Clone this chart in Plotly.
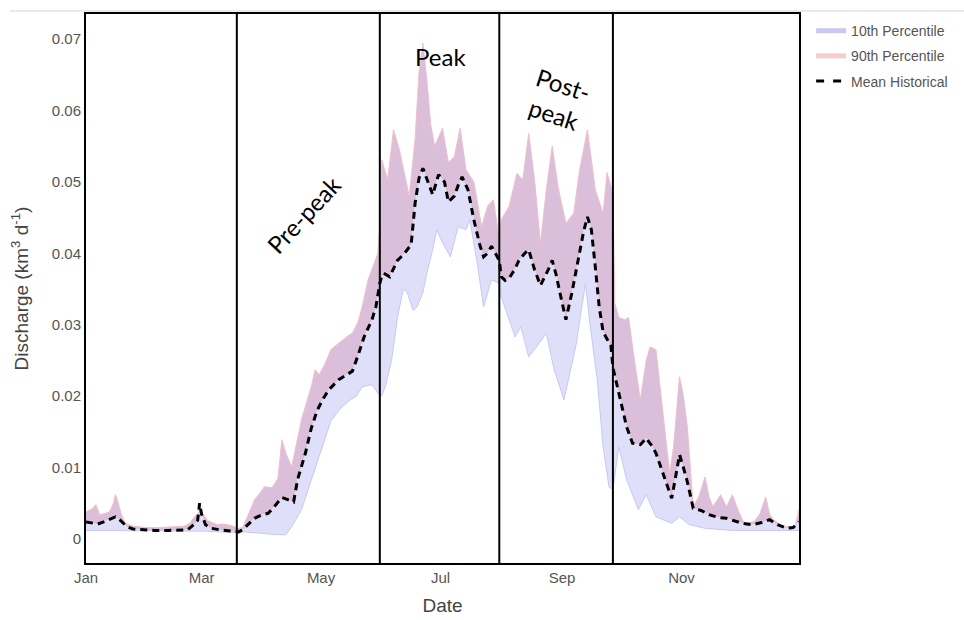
import pandas as pd
import plotly.graph_objects as go

# Day-of-year (0 = 1 Jan) and discharge in km^3/d for each series
mean_days = [0, 3, 6, 9, 12, 15, 18, 21, 24, 28, 35, 42, 48, 52, 55, 57, 58, 59, 61, 64, 68, 72, 76, 78,
             80, 83, 86, 90, 93, 96, 100, 103, 106, 108, 110, 112, 115, 118, 121, 124, 129, 133, 136, 139,
             142, 146, 148, 150, 151, 152, 155, 159, 162, 164, 166, 168, 170, 172, 174, 177, 180, 183, 185,
             188, 190, 192, 195, 198, 201, 203, 205, 207, 209, 211, 212, 214, 216, 219, 221, 224, 226, 229,
             232, 234, 236, 238, 240, 242, 245, 248, 251, 254, 256, 258, 260, 262, 264, 266, 268, 269, 272,
             276, 279, 283, 286, 289, 291, 295, 299, 301, 303, 305, 307, 310, 314, 318, 323, 327, 331, 335,
             340, 345, 349, 353, 358, 361, 364]
mean_vals = [0.0024, 0.0023, 0.0021, 0.0024, 0.0028, 0.0031, 0.0025, 0.0017, 0.0014, 0.0013, 0.0012, 0.0012,
             0.0012, 0.0013, 0.0020, 0.0026, 0.0050, 0.0035, 0.0020, 0.0015, 0.0013, 0.0012, 0.0011, 0.0010,
             0.0013, 0.0021, 0.0029, 0.0034, 0.0036, 0.0045, 0.0058, 0.0055, 0.0052, 0.0083, 0.0100, 0.0120,
             0.0155, 0.0180, 0.0196, 0.0209, 0.0223, 0.0230, 0.0235, 0.0258, 0.0283, 0.0307, 0.0325, 0.0358,
             0.0368, 0.0372, 0.0367, 0.0390, 0.0398, 0.0405, 0.0412, 0.0470, 0.0505, 0.0519, 0.0503, 0.0482,
             0.0510, 0.0500, 0.0472, 0.0480, 0.0495, 0.0507, 0.0489, 0.0447, 0.0412, 0.0395, 0.0400, 0.0410,
             0.0400, 0.0390, 0.0367, 0.0362, 0.0365, 0.0378, 0.0390, 0.0400, 0.0405, 0.0377, 0.0355, 0.0365,
             0.0377, 0.0390, 0.0370, 0.0344, 0.0307, 0.0344, 0.0386, 0.0430, 0.0451, 0.0433, 0.0381, 0.0325,
             0.0290, 0.0280, 0.0270, 0.0240, 0.0204, 0.0157, 0.0134, 0.0132, 0.0141, 0.0130, 0.0120, 0.0087,
             0.0057, 0.0087, 0.0118, 0.0100, 0.0080, 0.0043, 0.0040, 0.0034, 0.0030, 0.0029, 0.0025, 0.0022,
             0.0020, 0.0023, 0.0027, 0.0020, 0.0015, 0.0016, 0.0024]

p90_days = [0, 3, 5, 7, 10, 12, 14, 15, 16, 18, 20, 24, 27, 32, 38, 45, 50, 53, 55, 58, 60, 62, 64, 67, 70,
            74, 78, 80, 83, 86, 89, 91, 95, 98, 100, 102, 105, 108, 110, 113, 115, 117, 119, 122, 125, 128,
            131, 134, 136, 139, 141, 144, 147, 149, 150, 151, 154, 157, 160, 163, 165, 168, 170, 172, 174,
            176, 178, 182, 185, 188, 191, 194, 198, 202, 205, 208, 211, 212, 216, 220, 223, 226, 229, 232,
            235, 238, 241, 245, 249, 252, 256, 260, 264, 266, 269, 270, 272, 275, 277, 280, 283, 286, 288,
            291, 294, 296, 298, 300, 303, 305, 307, 310, 313, 316, 318, 320, 324, 327, 330, 333, 336, 341,
            344, 347, 349, 351, 356, 362, 364]
p90_vals = [0.0038, 0.0042, 0.0048, 0.0034, 0.0036, 0.0038, 0.0050, 0.0062, 0.0055, 0.0035, 0.0022, 0.0018,
            0.0017, 0.0016, 0.0016, 0.0017, 0.0018, 0.0022, 0.0030, 0.0038, 0.0034, 0.0026, 0.0024, 0.0020,
            0.0021, 0.0019, 0.0015, 0.0016, 0.0035, 0.0055, 0.0065, 0.0073, 0.0072, 0.0085, 0.0139, 0.0120,
            0.0101, 0.0140, 0.0167, 0.0195, 0.0213, 0.0237, 0.0230, 0.0245, 0.0265, 0.0272, 0.0279, 0.0285,
            0.0288, 0.0305, 0.0325, 0.0363, 0.0385, 0.0400, 0.0440, 0.0531, 0.0503, 0.0573, 0.0545, 0.0505,
            0.0480, 0.0559, 0.0653, 0.0694, 0.0643, 0.0580, 0.0550, 0.0575, 0.0527, 0.0535, 0.0575, 0.0517,
            0.0500, 0.0437, 0.0466, 0.0475, 0.0419, 0.0447, 0.0466, 0.0512, 0.0503, 0.0568, 0.0503, 0.0414,
            0.0489, 0.0550, 0.0493, 0.0442, 0.0456, 0.0517, 0.0573, 0.0489, 0.0456, 0.0513, 0.0484, 0.0330,
            0.0310, 0.0307, 0.0310, 0.0250, 0.0195, 0.0250, 0.0269, 0.0265, 0.0195, 0.0140, 0.0092, 0.0130,
            0.0227, 0.0200, 0.0157, 0.0045, 0.0060, 0.0087, 0.0060, 0.0045, 0.0062, 0.0045, 0.0062, 0.0040,
            0.0022, 0.0024, 0.0035, 0.0059, 0.0035, 0.0027, 0.0017, 0.0017, 0.0041]

p10_days = [0, 20, 40, 60, 75, 80, 90, 97, 102, 105, 110, 115, 120, 125, 130, 135, 138, 141, 146, 149, 151,
            153, 156, 159, 162, 164, 167, 169, 172, 174, 177, 179, 182, 186, 190, 194, 196, 200, 203, 207,
            211, 212, 216, 219, 222, 226, 230, 235, 239, 244, 247, 250, 255, 257, 261, 264, 267, 269, 272,
            276, 282, 286, 291, 299, 303, 308, 316, 330, 364]
p10_vals = [0.0012, 0.0012, 0.0011, 0.0011, 0.0009, 0.0010, 0.0008, 0.0006, 0.0006, 0.0017, 0.0041, 0.0083,
            0.0125, 0.0165, 0.0183, 0.0195, 0.0200, 0.0213, 0.0216, 0.0204, 0.0200, 0.0215, 0.0250, 0.0310,
            0.0350, 0.0345, 0.0320, 0.0325, 0.0345, 0.0372, 0.0405, 0.0433, 0.0415, 0.0395, 0.0437, 0.0433,
            0.0447, 0.0381, 0.0325, 0.0363, 0.0358, 0.0339, 0.0307, 0.0283, 0.0297, 0.0255, 0.0269, 0.0288,
            0.0237, 0.0195, 0.0232, 0.0269, 0.0358, 0.0307, 0.0223, 0.0129, 0.0073, 0.0069, 0.0129, 0.0083,
            0.0041, 0.0062, 0.0031, 0.0022, 0.0031, 0.0020, 0.0015, 0.0012, 0.0012]

# Phase boundaries (pre-peak, peak, post-peak)
phase_breaks = ["2001-03-19", "2001-05-31", "2001-07-31", "2001-09-27"]

year_start = pd.Timestamp("2001-01-01")


def to_dates(days):
    return year_start + pd.to_timedelta(days, unit="D")


mean_x = to_dates(mean_days)
p90_x = to_dates(p90_days)
p10_x = to_dates(p10_days)

BLUE_FILL = "rgb(223,223,250)"
PINK_FILL = "rgb(219,190,217)"
BLUE_LINE = "rgb(200,200,245)"
PINK_LINE = "rgb(240,192,202)"

fig = go.Figure()

# lower band: 10th percentile up to the mean
fig.add_trace(go.Scatter(x=p10_x, y=p10_vals, mode="lines",
                         line=dict(color=BLUE_LINE, width=1),
                         showlegend=False, hoverinfo="skip"))
fig.add_trace(go.Scatter(x=mean_x, y=mean_vals, mode="lines", fill="tonexty",
                         fillcolor=BLUE_FILL, line=dict(width=0),
                         showlegend=False, hoverinfo="skip"))
# upper band: mean up to the 90th percentile
fig.add_trace(go.Scatter(x=p90_x, y=p90_vals, mode="lines", fill="tonexty",
                         fillcolor=PINK_FILL, line=dict(color=PINK_LINE, width=1),
                         showlegend=False, hoverinfo="skip"))
# mean historical discharge
fig.add_trace(go.Scatter(x=mean_x, y=mean_vals, mode="lines",
                         line=dict(color="black", width=3, dash="7px,5px"),
                         showlegend=False))

# legend entries
fig.add_trace(go.Scatter(x=[None], y=[None], mode="lines", name="10th Percentile",
                         legendgroup="p10", line=dict(color=BLUE_LINE, width=5)))
fig.add_trace(go.Scatter(x=[None], y=[None], mode="lines", name="90th Percentile",
                         legendgroup="p90", line=dict(color="rgb(246,204,208)", width=5)))
fig.add_trace(go.Scatter(x=[None], y=[None], mode="lines", name="Mean Historical",
                         legendgroup="mean", line=dict(color="black", width=3, dash="8px,9px")))

shapes = [dict(type="line", xref="x", yref="paper", x0=d, x1=d, y0=0, y1=1,
               line=dict(color="black", width=2)) for d in phase_breaks]
shapes.append(dict(type="line", xref="paper", yref="paper", x0=-0.107, x1=1.235,
                   y0=1.0055, y1=1.0055, line=dict(color="#d4d4d4", width=1)))

label_font = dict(family="Lato, Open Sans, sans-serif", size=24, color="black")
annotations = [
    dict(x="2001-04-22", y=0.0455, xref="x", yref="y", text="Pre-peak",
         textangle=-47, showarrow=False, font=label_font),
    dict(x="2001-07-01", y=0.0675, xref="x", yref="y", text="Peak",
         showarrow=False, font=label_font),
    dict(x="2001-08-30", y=0.0616, xref="x", yref="y", text="Post-<br>peak",
         textangle=18, showarrow=False, font=label_font),
]

axis_font = dict(family="Arial, Liberation Sans, sans-serif", size=15, color="#555555")
title_font = dict(family="Arial, Liberation Sans, sans-serif", size=19, color="#444444")

fig.update_layout(
    width=964, height=620, autosize=False,
    margin=dict(l=86, r=165, t=14, b=57, autoexpand=False),
    paper_bgcolor="white", plot_bgcolor="white",
    shapes=shapes, annotations=annotations,
    legend=dict(x=1.017, y=0.998, xanchor="left", yanchor="top", traceorder="grouped",
                font=dict(family="Arial, Liberation Sans, sans-serif", size=14, color="#555555"),
                bgcolor="rgba(0,0,0,0)", tracegroupgap=4),
    xaxis=dict(type="date", range=["2001-01-01", "2001-12-31"],
               tick0="2001-01-01", dtick="M2", tickformat="%b",
               showgrid=False, zeroline=False, ticks="", automargin=False,
               showline=True, mirror=True, linecolor="black", linewidth=2,
               tickfont=axis_font, title=dict(text="Date", font=title_font, standoff=14)),
    yaxis=dict(range=[-0.00336, 0.0735], tick0=0, dtick=0.01,
               showgrid=False, zeroline=False, ticks="", automargin=False,
               showline=True, mirror=True, linecolor="black", linewidth=2,
               tickfont=axis_font,
               title=dict(text="Discharge (km<sup>3</sup> d<sup>-1</sup>)", font=title_font, standoff=18)),
)

fig.write_html("out.html")
